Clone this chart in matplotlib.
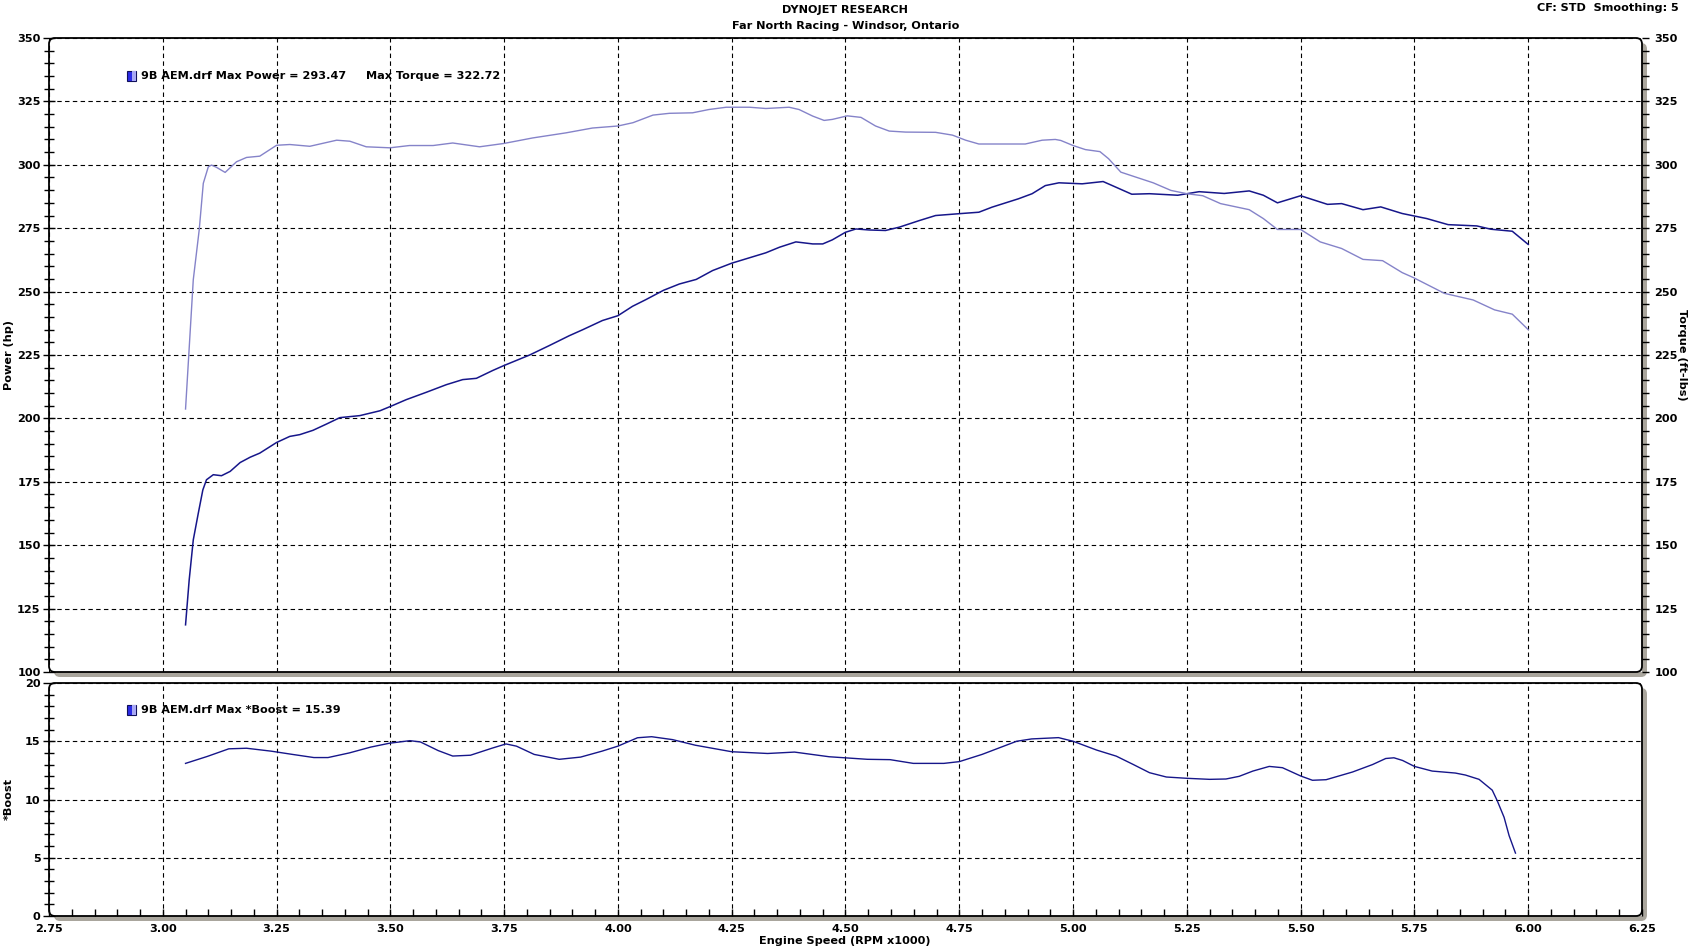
import matplotlib
matplotlib.use("Agg")
import matplotlib.pyplot as plt
from matplotlib.patches import FancyBboxPatch, Rectangle
from matplotlib.transforms import IdentityTransform
from matplotlib.ticker import MultipleLocator

# dyno run data (rpm x1000)
power_rpm = [3.05, 3.058, 3.067, 3.078, 3.088, 3.096, 3.111, 3.129, 3.148, 3.17, 3.192, 3.213,
             3.25, 3.279, 3.301, 3.33, 3.36, 3.389, 3.433, 3.477, 3.50, 3.535, 3.579, 3.623,
             3.659, 3.689, 3.725, 3.749, 3.806, 3.849, 3.893, 3.923, 3.966, 4.00, 4.032, 4.061,
             4.10, 4.135, 4.172, 4.208, 4.25, 4.281, 4.325, 4.355, 4.391, 4.428, 4.45, 4.471,
             4.50, 4.523, 4.552, 4.588, 4.618, 4.662, 4.698, 4.748, 4.793, 4.822, 4.88, 4.91,
             4.939, 4.969, 5.02, 5.066, 5.09, 5.129, 5.168, 5.23, 5.277, 5.332, 5.387, 5.418,
             5.449, 5.50, 5.559, 5.59, 5.637, 5.676, 5.723, 5.777, 5.824, 5.887, 5.918, 5.965, 6.00]
power_hp = [118.6, 136.3, 152.1, 162.6, 171.8, 175.8, 177.8, 177.4, 179.1, 182.6, 184.7, 186.3,
            190.5, 192.9, 193.6, 195.3, 197.8, 200.3, 201.1, 203.0, 204.7, 207.4, 210.3, 213.3,
            215.3, 215.8, 218.9, 220.8, 225.0, 228.7, 232.6, 235.0, 238.6, 240.5, 244.2, 246.8,
            250.5, 253.0, 254.8, 258.3, 261.2, 262.9, 265.3, 267.5, 269.6, 268.8, 268.8, 270.4,
            273.4, 274.7, 274.3, 274.1, 275.4, 278.0, 280.0, 280.7, 281.3, 283.3, 286.6, 288.6,
            291.8, 292.9, 292.5, 293.4, 291.5, 288.4, 288.6, 288.0, 289.4, 288.7, 289.7, 288.0,
            285.0, 287.8, 284.4, 284.7, 282.3, 283.4, 280.8, 278.8, 276.4, 275.9, 274.6, 273.8, 268.6]

torque_rpm = [3.05, 3.067, 3.08, 3.089, 3.10, 3.107, 3.118, 3.137, 3.162, 3.184, 3.213, 3.25,
              3.279, 3.323, 3.382, 3.411, 3.447, 3.499, 3.542, 3.594, 3.637, 3.696, 3.749, 3.813,
              3.886, 3.944, 4.00, 4.033, 4.077, 4.113, 4.164, 4.20, 4.238, 4.289, 4.325, 4.376,
              4.398, 4.428, 4.453, 4.471, 4.504, 4.534, 4.566, 4.596, 4.632, 4.698, 4.735, 4.764,
              4.793, 4.895, 4.932, 4.961, 4.973, 5.00, 5.027, 5.059, 5.078, 5.105, 5.137, 5.176,
              5.215, 5.25, 5.285, 5.324, 5.387, 5.418, 5.449, 5.50, 5.543, 5.59, 5.637, 5.68,
              5.723, 5.748, 5.816, 5.879, 5.926, 5.965, 6.00]
torque_ftlb = [203.7, 254.7, 274.3, 292.7, 299.2, 299.9, 299.0, 297.0, 301.2, 302.9, 303.4, 307.7,
               308.0, 307.3, 309.7, 309.3, 307.1, 306.7, 307.6, 307.6, 308.6, 307.1, 308.4, 310.6,
               312.6, 314.5, 315.3, 316.6, 319.6, 320.3, 320.5, 321.8, 322.7, 322.7, 322.2, 322.7,
               321.8, 319.2, 317.5, 317.9, 319.3, 318.7, 315.3, 313.3, 312.9, 312.8, 311.7, 309.7,
               308.2, 308.2, 309.7, 310.0, 309.6, 307.6, 306.0, 305.2, 302.4, 297.1, 295.2, 292.9,
               289.9, 288.6, 287.8, 284.7, 282.3, 278.8, 274.5, 274.5, 269.6, 267.0, 262.7, 262.2,
               257.5, 255.5, 249.3, 246.7, 242.8, 241.1, 235.0]

boost_rpm = [3.05, 3.098, 3.145, 3.184, 3.238, 3.285, 3.332, 3.363, 3.41, 3.457, 3.498, 3.543,
             3.566, 3.605, 3.637, 3.676, 3.723, 3.754, 3.777, 3.816, 3.871, 3.918, 3.965, 4.00,
             4.043, 4.074, 4.12, 4.17, 4.25, 4.329, 4.388, 4.464, 4.548, 4.598, 4.649, 4.716,
             4.75, 4.80, 4.876, 4.909, 4.968, 5.00, 5.052, 5.095, 5.132, 5.168, 5.205, 5.25,
             5.30, 5.336, 5.365, 5.395, 5.431, 5.46, 5.50, 5.526, 5.556, 5.614, 5.658, 5.687,
             5.705, 5.724, 5.75, 5.789, 5.84, 5.862, 5.892, 5.921, 5.932, 5.947, 5.958, 5.972]
boost_psi = [13.1, 13.7, 14.35, 14.4, 14.15, 13.87, 13.6, 13.6, 14.0, 14.5, 14.83, 15.05,
             14.94, 14.2, 13.73, 13.8, 14.4, 14.77, 14.58, 13.87, 13.45, 13.64, 14.15, 14.58,
             15.3, 15.39, 15.14, 14.66, 14.1, 13.95, 14.07, 13.67, 13.45, 13.42, 13.1, 13.1,
             13.25, 13.87, 15.0, 15.2, 15.31, 15.0, 14.24, 13.72, 13.01, 12.3, 11.93, 11.82,
             11.73, 11.76, 11.99, 12.44, 12.84, 12.73, 12.02, 11.65, 11.7, 12.36, 13.0, 13.52,
             13.58, 13.35, 12.84, 12.44, 12.27, 12.1, 11.73, 10.8, 9.89, 8.47, 6.9, 5.4]

run_name = "9B AEM.drf"
max_power = 293.47
max_torque = 322.72
max_boost = 15.39

DARK = "#16168a"
LIGHT = "#8583c9"
SHADOW = "#aaa69d"
FS = 8.1

W, H = 1691, 949
fig = plt.figure(figsize=(W / 100, H / 100), dpi=100)
plt.rcParams["font.family"] = ["DejaVu Sans"]
plt.rcParams["font.weight"] = "bold"

ax = fig.add_axes([49 / W, 1 - 672 / H, 1593 / W, 634 / H])
axb = fig.add_axes([49 / W, 1 - 916 / H, 1593 / W, 233 / H])
ax2 = ax.twinx()

grid_kw = dict(color="black", linestyle=(0, (4, 3)), linewidth=0.8)

for a in (ax, axb):
    a.set_xlim(2.75, 6.25)
    a.xaxis.set_major_locator(MultipleLocator(0.25))
    a.xaxis.set_minor_locator(MultipleLocator(0.05))
    a.grid(True, which="major", **grid_kw)
    for s in a.spines.values():
        s.set_visible(False)
    a.tick_params(axis="y", which="both", direction="inout", left=True, right=False,
                  width=1, labelsize=FS, pad=2)
    a.tick_params(axis="y", which="major", length=8)
    a.tick_params(axis="y", which="minor", length=7)

# top panel
ax.set_ylim(100, 350)
ax.yaxis.set_major_locator(MultipleLocator(25))
ax.yaxis.set_minor_locator(MultipleLocator(5))
ax.tick_params(axis="x", which="both", bottom=False, labelbottom=False)
ax.plot(power_rpm, power_hp, color=DARK, lw=1.1, zorder=3)

ax2.set_ylim(100, 350)
ax2.yaxis.set_major_locator(MultipleLocator(25))
ax2.yaxis.set_minor_locator(MultipleLocator(5))
for s in ax2.spines.values():
    s.set_visible(False)
ax2.tick_params(axis="y", which="both", direction="out", width=1, labelsize=FS, pad=4)
ax2.tick_params(axis="y", which="major", length=5)
ax2.tick_params(axis="y", which="minor", length=5)
ax2.plot(torque_rpm, torque_ftlb, color=LIGHT, lw=1.0, zorder=3)

# bottom panel
axb.set_ylim(0, 20)
axb.yaxis.set_major_locator(MultipleLocator(5))
axb.yaxis.set_minor_locator(MultipleLocator(1))
axb.tick_params(axis="x", which="both", direction="in", width=1, labelsize=FS, pad=6)
axb.tick_params(axis="x", which="major", length=5)
axb.tick_params(axis="x", which="minor", length=5)
axb.xaxis.set_major_formatter(plt.FuncFormatter(lambda v, p: f"{v:.2f}"))
axb.plot(boost_rpm, boost_psi, color=DARK, lw=1.0, zorder=3)

for a in (ax, ax2, axb):
    for lab in a.get_xticklabels() + a.get_yticklabels():
        lab.set_fontweight("bold")


# rounded frames with grey drop shadow, in pixel coordinates
def frame(a):
    bb = a.get_position()
    x0, y0, w, h = bb.x0 * W, bb.y0 * H, bb.width * W, bb.height * H
    sh = FancyBboxPatch((x0 + 5, y0 - 5), w, h, boxstyle="round,pad=0,rounding_size=6",
                        transform=IdentityTransform(), fc=SHADOW, ec="none", zorder=-1)
    fig.add_artist(sh)
    fr = FancyBboxPatch((x0, y0), w, h, boxstyle="round,pad=0,rounding_size=6",
                        transform=IdentityTransform(), fill=False, ec="black", lw=1.3, zorder=5)
    fig.add_artist(fr)


frame(ax)
frame(axb)


def legend_box(a, x_px, y_frac):
    bb = a.get_position()
    wpx, hpx = bb.width * W, bb.height * H
    bw, bh = 9 / wpx, 10 / hpx
    a.add_patch(Rectangle((x_px / wpx, y_frac - bh / 2), bw, bh, transform=a.transAxes,
                          fc="#2b2be6", ec="#10105a", lw=0.8, zorder=6, clip_on=False))
    a.add_patch(Rectangle((x_px / wpx + bw * 0.6, y_frac - bh / 2), bw * 0.4, bh,
                          transform=a.transAxes, fc="#a8a8f4", ec="none", zorder=7, clip_on=False))
    return (x_px + 14) / wpx


tx = legend_box(ax, 78, 0.94)
ax.text(tx, 0.94, f"{run_name} Max Power = {max_power:.2f}", transform=ax.transAxes,
        fontsize=FS, fontweight="bold", va="center", ha="left", zorder=8)
ax.text((366 - 49) / 1593, 0.94, f"Max Torque = {max_torque:.2f}", transform=ax.transAxes,
        fontsize=FS, fontweight="bold", va="center", ha="left", zorder=8)

tx = legend_box(axb, 78, 0.885)
axb.text(tx, 0.885, f"{run_name} Max *Boost = {max_boost:.2f}", transform=axb.transAxes,
         fontsize=FS, fontweight="bold", va="center", ha="left", zorder=8)

# titles and axis labels
fig.text(0.5, 1 - 10 / H, "DYNOJET RESEARCH", ha="center", va="center", fontsize=FS, fontweight="bold")
fig.text(0.5, 1 - 26 / H, "Far North Racing - Windsor, Ontario", ha="center", va="center",
         fontsize=FS, fontweight="bold")
fig.text(1679 / W, 1 - 8 / H, "CF: STD  Smoothing: 5", ha="right", va="center", fontsize=FS,
         fontweight="bold")
fig.text(9 / W, 1 - 355 / H, "Power (hp)", rotation=90, ha="center", va="center", fontsize=FS,
         fontweight="bold")
fig.text(1682 / W, 1 - 355 / H, "Torque (ft-lbs)", rotation=270, ha="center", va="center",
         fontsize=FS, fontweight="bold")
fig.text(9 / W, 1 - 799 / H, "*Boost", rotation=90, ha="center", va="center", fontsize=FS,
         fontweight="bold")
fig.text(845 / W, 1 - 941 / H, "Engine Speed (RPM x1000)", ha="center", va="center", fontsize=FS,
         fontweight="bold")

fig.savefig("out.png", dpi=100)
